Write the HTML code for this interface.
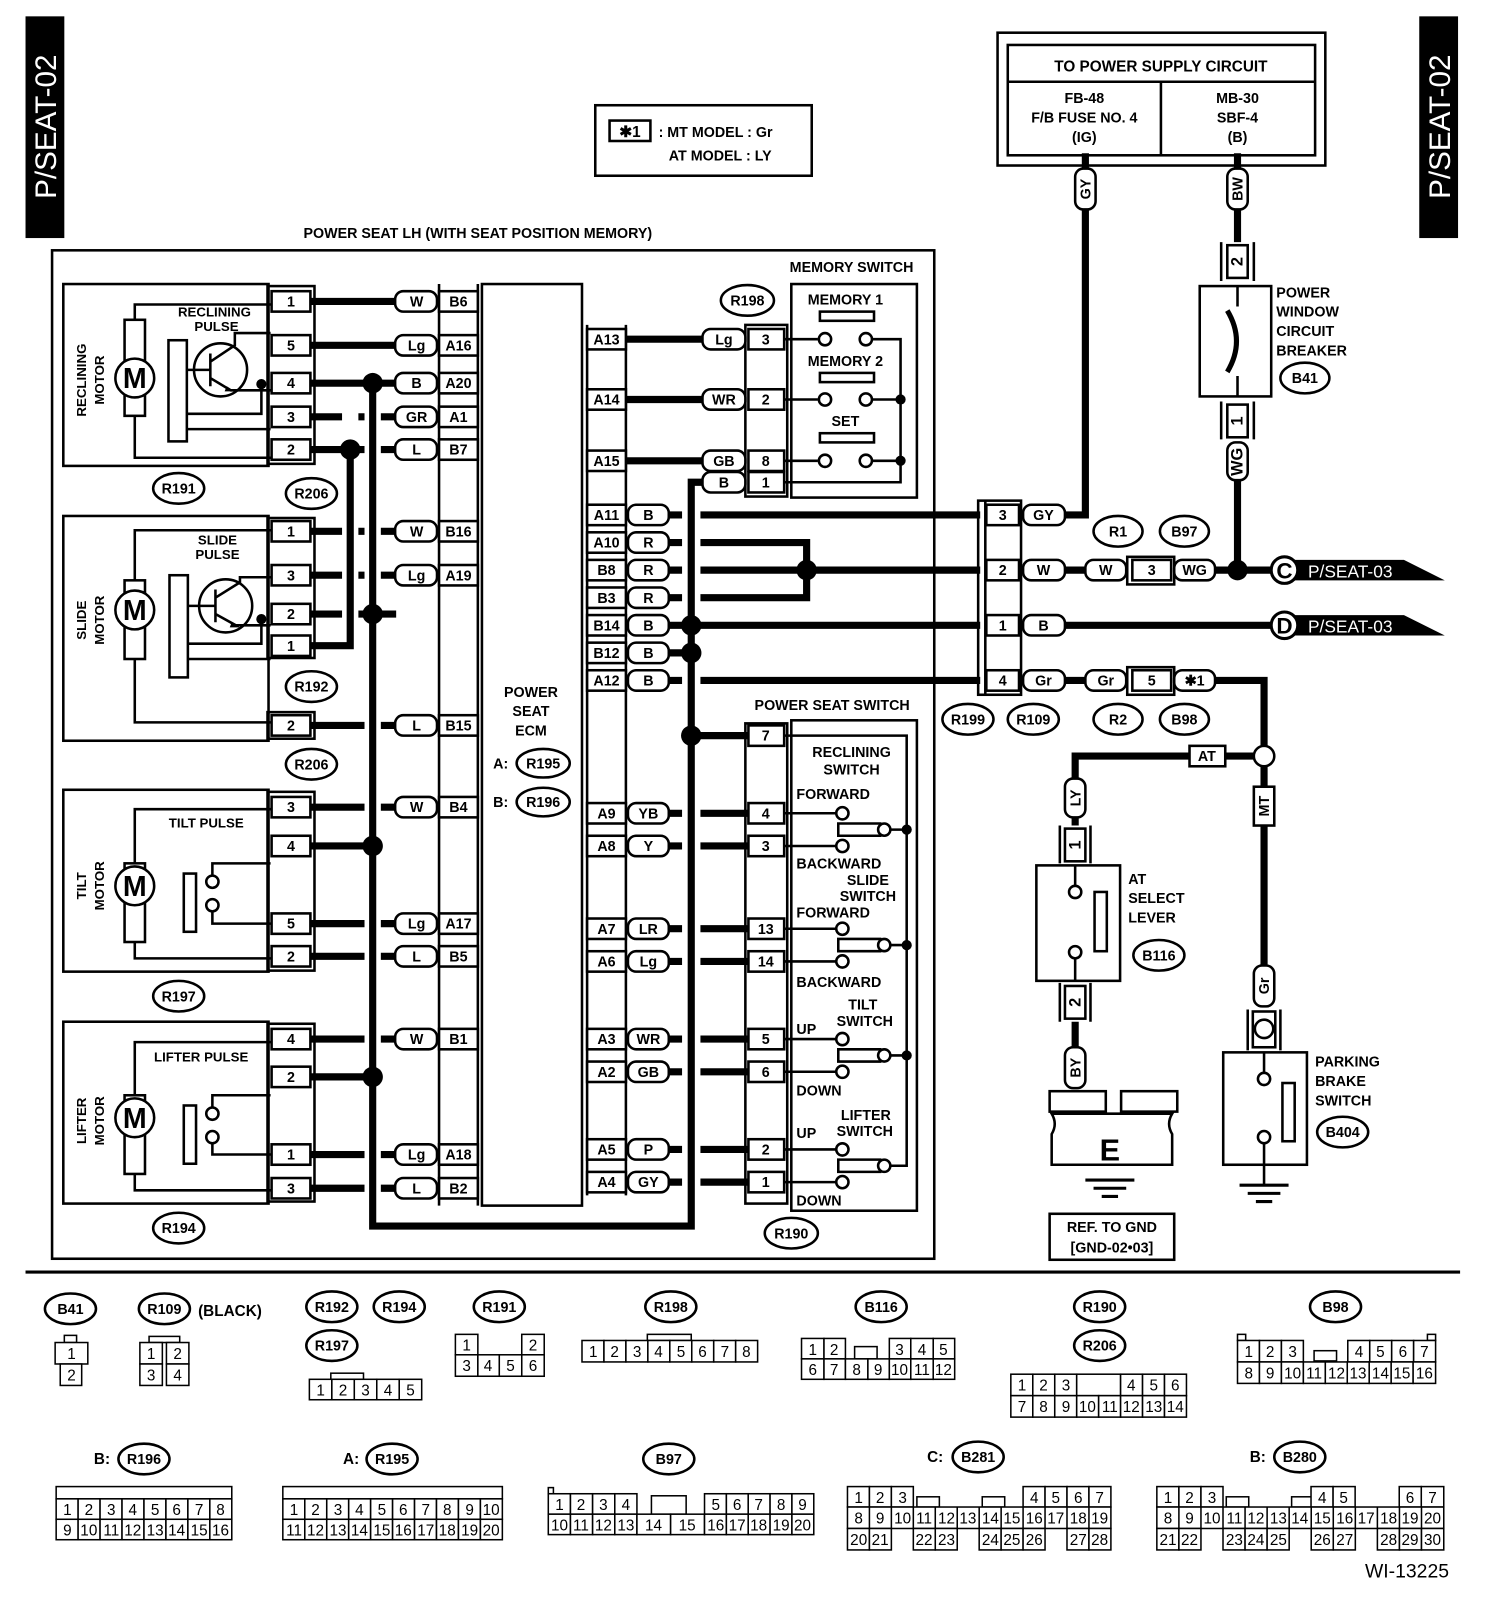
<!DOCTYPE html>
<html><head><meta charset="utf-8"><style>
html,body{margin:0;padding:0;background:#fff}
svg{display:block}
text{font-family:"Liberation Sans",sans-serif;font-weight:bold;fill:#000}
.t{stroke:#000;stroke-width:2.5;fill:none}
.w{stroke:#000;stroke-width:7;fill:none}
.b{fill:#fff;stroke:#000;stroke-width:2.5}
.c rect{fill:#fff;stroke:#000;stroke-width:1.5}
.c text{font-weight:normal;font-size:15px;text-anchor:middle}
.m{text-anchor:middle}
</style></head><body>
<svg width="1504" height="1600" viewBox="0 0 1473 1566" preserveAspectRatio="none" xmlns="http://www.w3.org/2000/svg">
<rect x="0" y="0" width="1473" height="1566" fill="#fff"/>
<!-- side tabs -->
<rect x="25" y="16" width="38" height="217" fill="#000"/>
<text transform="rotate(-90 55 124)" x="55" y="124" class="m" style="font-size:29px;fill:#fff;font-weight:normal">P/SEAT-02</text>
<rect x="1390" y="16" width="38" height="217" fill="#000"/>
<text transform="rotate(-90 1420 124)" x="1420" y="124" class="m" style="font-size:29px;fill:#fff;font-weight:normal">P/SEAT-02</text>

<!-- legend -->
<rect x="583" y="103" width="212" height="69" class="t"/>
<rect x="597" y="118" width="40" height="20" class="t"/>
<text x="617" y="134" class="m" font-size="15">✱1</text>
<text x="645" y="134" font-size="14">: MT MODEL : Gr</text>
<text x="655" y="157" font-size="14">AT MODEL : LY</text>

<!-- power supply -->
<rect x="977" y="32" width="321" height="130" class="t"/>
<rect x="987" y="44" width="301" height="108" class="t"/>
<line x1="987" y1="80" x2="1288" y2="80" class="t"/>
<line x1="1137" y1="80" x2="1137" y2="152" class="t"/>
<text x="1137" y="70" class="m" font-size="15">TO POWER SUPPLY CIRCUIT</text>
<text x="1062" y="101" class="m" font-size="14">FB-48</text>
<text x="1062" y="120" class="m" font-size="14">F/B FUSE NO. 4</text>
<text x="1062" y="139" class="m" font-size="14">(IG)</text>
<text x="1212" y="101" class="m" font-size="14">MB-30</text>
<text x="1212" y="120" class="m" font-size="14">SBF-4</text>
<text x="1212" y="139" class="m" font-size="14">(B)</text>

<text x="468" y="233" class="m" font-size="14">POWER SEAT LH (WITH SEAT POSITION MEMORY)</text>
<rect x="51" y="245" width="864" height="987" class="t"/>

<!-- ECM -->
<rect x="472" y="278" width="98" height="902" class="t"/>
<line x1="430" y1="278" x2="430" y2="1180" class="t"/><line x1="468" y1="278" x2="468" y2="1180" class="t"/>
<line x1="575" y1="318" x2="575" y2="1170" class="t"/><line x1="613" y1="318" x2="613" y2="1170" class="t"/>
<text x="520" y="682" class="m" font-size="14">POWER</text>
<text x="520" y="701" class="m" font-size="14">SEAT</text>
<text x="520" y="720" class="m" font-size="14">ECM</text>
<text x="483" y="752" font-size="14">A:</text><ellipse cx="532" cy="747" rx="26" ry="14" class="b"/><text x="532" y="752" class="m" font-size="14">R195</text>
<text x="483" y="790" font-size="14">B:</text><ellipse cx="532" cy="785" rx="26" ry="14" class="b"/><text x="532" y="790" class="m" font-size="14">R196</text>

<!-- bus lines -->
<path d="M365 375 V1200 H677 V472 H688" class="w"/>
<path d="M343 440 V632 H305" class="w"/>
<path d="M677 720 H733" class="w"/>

<!-- Motor-side connector columns -->
<g class="t">
<rect x="262" y="280" width="46" height="174"/><rect x="262" y="507" width="46" height="137"/><rect x="262" y="697" width="46" height="26"/>
<rect x="262" y="775" width="46" height="175"/><rect x="262" y="1002" width="46" height="174"/>
</g>
<g font-size="14">
<g class="b"><rect x="266" y="285" width="38" height="20"/><rect x="266" y="328" width="38" height="20"/><rect x="266" y="365" width="38" height="20"/><rect x="266" y="398" width="38" height="20"/><rect x="266" y="430" width="38" height="20"/>
<rect x="266" y="510" width="38" height="20"/><rect x="266" y="553" width="38" height="20"/><rect x="266" y="591" width="38" height="20"/><rect x="266" y="622" width="38" height="20"/><rect x="266" y="700" width="38" height="20"/>
<rect x="266" y="780" width="38" height="20"/><rect x="266" y="818" width="38" height="20"/><rect x="266" y="894" width="38" height="20"/><rect x="266" y="926" width="38" height="20"/>
<rect x="266" y="1007" width="38" height="20"/><rect x="266" y="1044" width="38" height="20"/><rect x="266" y="1120" width="38" height="20"/><rect x="266" y="1153" width="38" height="20"/></g>
<g class="m"><text x="285" y="300">1</text><text x="285" y="343">5</text><text x="285" y="380">4</text><text x="285" y="413">3</text><text x="285" y="445">2</text>
<text x="285" y="525">1</text><text x="285" y="568">3</text><text x="285" y="606">2</text><text x="285" y="637">1</text><text x="285" y="715">2</text>
<text x="285" y="795">3</text><text x="285" y="833">4</text><text x="285" y="909">5</text><text x="285" y="941">2</text>
<text x="285" y="1022">4</text><text x="285" y="1059">2</text><text x="285" y="1135">1</text><text x="285" y="1168">3</text></g>
</g>

<!-- wires left to ECM -->
<g class="w">
<path d="M305 295 H388"/><path d="M305 338 H388"/><path d="M305 375 H388"/><path d="M305 408 H335 M351 408 H357 M373 408 H388"/><path d="M305 440 H357 M373 440 H388"/>
<path d="M305 520 H335 M351 520 H357 M373 520 H388"/><path d="M305 563 H335 M351 563 H357 M373 563 H388"/><path d="M305 601 H335 M351 601 H388"/><path d="M305 710 H357 M373 710 H388"/>
<path d="M305 790 H357 M373 790 H388"/><path d="M305 828 H365"/><path d="M305 904 H357 M373 904 H388"/><path d="M305 936 H357 M373 936 H388"/>
<path d="M305 1017 H357 M373 1017 H388"/><path d="M305 1054 H365"/><path d="M305 1130 H357 M373 1130 H388"/><path d="M305 1163 H357 M373 1163 H388"/>
</g>
<g fill="#000"><circle cx="365" cy="375" r="10"/><circle cx="343" cy="440" r="10"/><circle cx="365" cy="601" r="10"/><circle cx="365" cy="828" r="10"/><circle cx="365" cy="1054" r="10"/>
<circle cx="677" cy="612" r="10"/><circle cx="677" cy="639" r="10"/><circle cx="677" cy="720" r="10"/><circle cx="790" cy="558" r="10"/></g>

<!-- wire labels left side + ECM pins left -->
<g font-size="14">
<g class="b">
<rect x="387" y="285" width="41" height="20" rx="8"/><rect x="387" y="328" width="41" height="20" rx="8"/><rect x="387" y="365" width="41" height="20" rx="8"/><rect x="387" y="398" width="41" height="20" rx="8"/><rect x="387" y="430" width="41" height="20" rx="8"/>
<rect x="387" y="510" width="41" height="20" rx="8"/><rect x="387" y="553" width="41" height="20" rx="8"/><rect x="387" y="700" width="41" height="20" rx="8"/>
<rect x="387" y="780" width="41" height="20" rx="8"/><rect x="387" y="894" width="41" height="20" rx="8"/><rect x="387" y="926" width="41" height="20" rx="8"/>
<rect x="387" y="1007" width="41" height="20" rx="8"/><rect x="387" y="1120" width="41" height="20" rx="8"/><rect x="387" y="1153" width="41" height="20" rx="8"/>
<rect x="430" y="285" width="38" height="20"/><rect x="430" y="328" width="38" height="20"/><rect x="430" y="365" width="38" height="20"/><rect x="430" y="398" width="38" height="20"/><rect x="430" y="430" width="38" height="20"/>
<rect x="430" y="510" width="38" height="20"/><rect x="430" y="553" width="38" height="20"/><rect x="430" y="700" width="38" height="20"/>
<rect x="430" y="780" width="38" height="20"/><rect x="430" y="894" width="38" height="20"/><rect x="430" y="926" width="38" height="20"/>
<rect x="430" y="1007" width="38" height="20"/><rect x="430" y="1120" width="38" height="20"/><rect x="430" y="1153" width="38" height="20"/>
</g>
<g class="m">
<text x="408" y="300">W</text><text x="408" y="343">Lg</text><text x="408" y="380">B</text><text x="408" y="413">GR</text><text x="408" y="445">L</text>
<text x="408" y="525">W</text><text x="408" y="568">Lg</text><text x="408" y="715">L</text>
<text x="408" y="795">W</text><text x="408" y="909">Lg</text><text x="408" y="941">L</text>
<text x="408" y="1022">W</text><text x="408" y="1135">Lg</text><text x="408" y="1168">L</text>
<text x="449" y="300">B6</text><text x="449" y="343">A16</text><text x="449" y="380">A20</text><text x="449" y="413">A1</text><text x="449" y="445">B7</text>
<text x="449" y="525">B16</text><text x="449" y="568">A19</text><text x="449" y="715">B15</text>
<text x="449" y="795">B4</text><text x="449" y="909">A17</text><text x="449" y="941">B5</text>
<text x="449" y="1022">B1</text><text x="449" y="1135">A18</text><text x="449" y="1168">B2</text>
</g></g>

<!-- motors -->
<g class="t">
<rect x="62" y="278" width="201" height="178"/><rect x="62" y="505" width="201" height="220"/><rect x="62" y="773" width="201" height="178"/><rect x="62" y="1000" width="201" height="178"/>
<rect x="122" y="313" width="20" height="94"/><path d="M132 313 V298 H265 M132 407 V448 H265"/>
<rect x="165" y="333" width="18" height="99"/><circle cx="216" cy="362" r="26"/>
<path d="M183 362 H206 M206 346 V378 M206 354 L230 338 V326 H265 M206 370 L226 382 H256 V405 H183 M256 382 H265 M183 420 H265"/>
<rect x="122" y="568" width="20" height="77"/><path d="M132 568 V519 H265 M132 645 V707 H265"/>
<rect x="166" y="563" width="18" height="100"/><circle cx="221" cy="593" r="26"/>
<path d="M184 593 H211 M211 577 V609 M211 585 L235 570 V565 H265 M211 601 L231 612 H256 V630 H184 M256 612 H265 M184 645 H265"/>
<rect x="122" y="845" width="20" height="77"/><path d="M132 845 V792 H265 M132 922 V938 H265"/>
<rect x="180" y="855" width="12" height="57"/><circle cx="208" cy="863" r="6"/><circle cx="208" cy="886" r="6"/>
<path d="M208 857 V845 H265 M208 892 V904 H265"/>
<rect x="122" y="1072" width="20" height="77"/><path d="M132 1072 V1020 H265 M132 1149 V1165 H265"/>
<rect x="180" y="1082" width="12" height="57"/><circle cx="208" cy="1090" r="6"/><circle cx="208" cy="1113" r="6"/>
<path d="M208 1084 V1072 H265 M208 1119 V1130 H265"/>
</g>
<g class="b"><circle cx="132" cy="370" r="19"/><circle cx="132" cy="597" r="19"/><circle cx="132" cy="867" r="19"/><circle cx="132" cy="1094" r="19"/></g>
<g class="m" font-size="28"><text x="132" y="380">M</text><text x="132" y="607">M</text><text x="132" y="877">M</text><text x="132" y="1104">M</text></g>
<g fill="#000"><path d="M222 378 l8 5 -10 0z"/><path d="M227 609 l8 5 -10 0z"/><circle cx="256" cy="376" r="5"/><circle cx="256" cy="606" r="5"/></g>
<g font-size="13" class="m">
<text x="210" y="310">RECLINING</text><text x="212" y="324">PULSE</text>
<text x="213" y="533">SLIDE</text><text x="213" y="547">PULSE</text>
<text x="202" y="810">TILT PULSE</text><text x="197" y="1039">LIFTER PULSE</text>
<text transform="rotate(-90 84 372)" x="84" y="372">RECLINING</text><text transform="rotate(-90 102 372)" x="102" y="372">MOTOR</text>
<text transform="rotate(-90 84 607)" x="84" y="607">SLIDE</text><text transform="rotate(-90 102 607)" x="102" y="607">MOTOR</text>
<text transform="rotate(-90 84 867)" x="84" y="867">TILT</text><text transform="rotate(-90 102 867)" x="102" y="867">MOTOR</text>
<text transform="rotate(-90 84 1097)" x="84" y="1097">LIFTER</text><text transform="rotate(-90 102 1097)" x="102" y="1097">MOTOR</text>
</g>
<g class="b"><ellipse cx="175" cy="478" rx="25" ry="15"/><ellipse cx="305" cy="483" rx="25" ry="15"/><ellipse cx="305" cy="672" rx="25" ry="15"/><ellipse cx="305" cy="748" rx="25" ry="15"/><ellipse cx="175" cy="975" rx="25" ry="15"/><ellipse cx="175" cy="1202" rx="25" ry="15"/>
<ellipse cx="732" cy="294" rx="26" ry="15"/><ellipse cx="775" cy="1207" rx="26" ry="15"/></g>
<g class="m" font-size="14"><text x="175" y="483">R191</text><text x="305" y="488">R206</text><text x="305" y="677">R192</text><text x="305" y="753">R206</text><text x="175" y="980">R197</text><text x="175" y="1207">R194</text>
<text x="732" y="299">R198</text><text x="775" y="1212">R190</text></g>

<!-- ECM right side pins -->
<g font-size="14">
<g class="b">
<rect x="575" y="322" width="38" height="20"/><rect x="575" y="381" width="38" height="20"/><rect x="575" y="441" width="38" height="20"/>
<rect x="575" y="494" width="38" height="20"/><rect x="575" y="521" width="38" height="20"/><rect x="575" y="548" width="38" height="20"/><rect x="575" y="575" width="38" height="20"/><rect x="575" y="602" width="38" height="20"/><rect x="575" y="629" width="38" height="20"/><rect x="575" y="656" width="38" height="20"/>
<rect x="575" y="786" width="38" height="20"/><rect x="575" y="818" width="38" height="20"/><rect x="575" y="899" width="38" height="20"/><rect x="575" y="931" width="38" height="20"/><rect x="575" y="1007" width="38" height="20"/><rect x="575" y="1039" width="38" height="20"/><rect x="575" y="1115" width="38" height="20"/><rect x="575" y="1147" width="38" height="20"/>
<rect x="615" y="494" width="40" height="20" rx="8"/><rect x="615" y="521" width="40" height="20" rx="8"/><rect x="615" y="548" width="40" height="20" rx="8"/><rect x="615" y="575" width="40" height="20" rx="8"/><rect x="615" y="602" width="40" height="20" rx="8"/><rect x="615" y="629" width="40" height="20" rx="8"/><rect x="615" y="656" width="40" height="20" rx="8"/>
<rect x="615" y="786" width="40" height="20" rx="8"/><rect x="615" y="818" width="40" height="20" rx="8"/><rect x="615" y="899" width="40" height="20" rx="8"/><rect x="615" y="931" width="40" height="20" rx="8"/><rect x="615" y="1007" width="40" height="20" rx="8"/><rect x="615" y="1039" width="40" height="20" rx="8"/><rect x="615" y="1115" width="40" height="20" rx="8"/><rect x="615" y="1147" width="40" height="20" rx="8"/>
</g>
<g class="m">
<text x="594" y="337">A13</text><text x="594" y="396">A14</text><text x="594" y="456">A15</text>
<text x="594" y="509">A11</text><text x="594" y="536">A10</text><text x="594" y="563">B8</text><text x="594" y="590">B3</text><text x="594" y="617">B14</text><text x="594" y="644">B12</text><text x="594" y="671">A12</text>
<text x="594" y="801">A9</text><text x="594" y="833">A8</text><text x="594" y="914">A7</text><text x="594" y="946">A6</text><text x="594" y="1022">A3</text><text x="594" y="1054">A2</text><text x="594" y="1130">A5</text><text x="594" y="1162">A4</text>
<text x="635" y="509">B</text><text x="635" y="536">R</text><text x="635" y="563">R</text><text x="635" y="590">R</text><text x="635" y="617">B</text><text x="635" y="644">B</text><text x="635" y="671">B</text>
<text x="635" y="801">YB</text><text x="635" y="833">Y</text><text x="635" y="914">LR</text><text x="635" y="946">Lg</text><text x="635" y="1022">WR</text><text x="635" y="1054">GB</text><text x="635" y="1130">P</text><text x="635" y="1162">GY</text>
</g></g>

<g class="w">
<path d="M613 332 H688 M613 391 H688 M613 451 H688"/>
<path d="M655 504 H668 M686 504 H960"/>
<path d="M655 531 H668 M686 531 H790 V585 H686 M668 585 H655"/>
<path d="M655 558 H668 M686 558 H960"/>
<path d="M655 612 H960"/><path d="M655 639 H677"/>
<path d="M655 666 H668 M686 666 H960"/>
<path d="M655 796 H668 M686 796 H733 M655 828 H668 M686 828 H733 M655 909 H668 M686 909 H733 M655 941 H668 M686 941 H733"/>
<path d="M655 1017 H668 M686 1017 H733 M655 1049 H668 M686 1049 H733 M655 1125 H668 M686 1125 H733 M655 1157 H668 M686 1157 H733"/>
</g>

<!-- memory switch -->
<text x="834" y="266" class="m" font-size="14">MEMORY SWITCH</text>
<rect x="775" y="278" width="123" height="209" class="t"/>
<rect x="730" y="318" width="41" height="168" class="t"/>
<g font-size="14"><g class="b">
<rect x="688" y="322" width="42" height="20" rx="8"/><rect x="688" y="381" width="42" height="20" rx="8"/><rect x="688" y="441" width="42" height="20" rx="8"/><rect x="688" y="462" width="42" height="20" rx="8"/>
<rect x="733" y="322" width="35" height="20"/><rect x="733" y="381" width="35" height="20"/><rect x="733" y="441" width="35" height="20"/><rect x="733" y="462" width="35" height="20"/>
</g><g class="m"><text x="709" y="337">Lg</text><text x="709" y="396">WR</text><text x="709" y="456">GB</text><text x="709" y="477">B</text>
<text x="750" y="337">3</text><text x="750" y="396">2</text><text x="750" y="456">8</text><text x="750" y="477">1</text>
<text x="828" y="298">MEMORY 1</text><text x="828" y="358">MEMORY 2</text><text x="828" y="417">SET</text></g></g>
<g class="t"><rect x="803" y="305" width="53" height="9"/><rect x="803" y="365" width="53" height="9"/><rect x="803" y="424" width="53" height="9"/>
<path d="M768 332 H801 M768 391 H801 M768 451 H801 M855 332 H882 V472 H768 M855 391 H882 M855 451 H882"/></g>
<g class="b"><circle cx="808" cy="332" r="6"/><circle cx="848" cy="332" r="6"/><circle cx="808" cy="391" r="6"/><circle cx="848" cy="391" r="6"/><circle cx="808" cy="451" r="6"/><circle cx="848" cy="451" r="6"/></g>
<g fill="#000"><circle cx="882" cy="391" r="5"/><circle cx="882" cy="451" r="5"/></g>

<!-- power seat switch -->
<text x="815" y="695" class="m" font-size="14">POWER SEAT SWITCH</text>
<rect x="775" y="705" width="123" height="480" class="t"/>
<rect x="730" y="708" width="41" height="470" class="t"/>
<g font-size="14"><g class="b">
<rect x="733" y="710" width="35" height="20"/><rect x="733" y="786" width="35" height="20"/><rect x="733" y="818" width="35" height="20"/><rect x="733" y="899" width="35" height="20"/><rect x="733" y="931" width="35" height="20"/><rect x="733" y="1007" width="35" height="20"/><rect x="733" y="1039" width="35" height="20"/><rect x="733" y="1115" width="35" height="20"/><rect x="733" y="1147" width="35" height="20"/>
</g><g class="m"><text x="750" y="725">7</text><text x="750" y="801">4</text><text x="750" y="833">3</text><text x="750" y="914">13</text><text x="750" y="946">14</text><text x="750" y="1022">5</text><text x="750" y="1054">6</text><text x="750" y="1130">2</text><text x="750" y="1162">1</text>
<text x="834" y="741">RECLINING</text><text x="834" y="758">SWITCH</text><text x="850" y="866">SLIDE</text><text x="850" y="882">SWITCH</text><text x="845" y="988">TILT</text><text x="847" y="1004">SWITCH</text><text x="848" y="1096">LIFTER</text><text x="847" y="1112">SWITCH</text></g>
<text x="780" y="782">FORWARD</text><text x="780" y="850">BACKWARD</text><text x="780" y="898">FORWARD</text><text x="780" y="966">BACKWARD</text><text x="780" y="1012">UP</text><text x="780" y="1072">DOWN</text><text x="780" y="1114">UP</text><text x="780" y="1180">DOWN</text></g>
<g class="t"><path d="M768 720 H888 V1141 H870"/>
<path d="M768 796 H819 M768 828 H819 M768 909 H819 M768 941 H819 M768 1017 H819 M768 1049 H819 M768 1125 H819 M768 1157 H819"/>
<path d="M821 806 H862 V818 H821Z M821 919 H862 V931 H821Z M821 1027 H862 V1039 H821Z M821 1135 H862 V1147 H821Z"/>
<path d="M870 812 H888 M870 925 H888 M870 1033 H888"/></g>
<g class="b"><circle cx="825" cy="796" r="6"/><circle cx="825" cy="828" r="6"/><circle cx="866" cy="812" r="6"/>
<circle cx="825" cy="909" r="6"/><circle cx="825" cy="941" r="6"/><circle cx="866" cy="925" r="6"/>
<circle cx="825" cy="1017" r="6"/><circle cx="825" cy="1049" r="6"/><circle cx="866" cy="1033" r="6"/>
<circle cx="825" cy="1125" r="6"/><circle cx="825" cy="1157" r="6"/><circle cx="866" cy="1141" r="6"/></g>
<g fill="#000"><circle cx="888" cy="812" r="5"/><circle cx="888" cy="925" r="5"/><circle cx="888" cy="1033" r="5"/></g>

<!-- right connector R199/R109 -->
<rect x="958" y="490" width="42" height="190" class="t"/><line x1="965" y1="490" x2="965" y2="680" class="t"/>
<g class="w"><path d="M1043 504 H1063 V200"/><path d="M1043 558 H1063 M1190 558 H1245"/><path d="M1043 612 H1245"/><path d="M1043 666 H1063 M1190 666 H1238 V730"/>
<path d="M1228 740 H1053 V762"/><path d="M1238 750 V950"/><path d="M1212 205 V237 M1212 470 V558"/><path d="M1053 800 V808 M1053 1000 V1025"/><path d="M1063 150 V165"/><path d="M1212 150 V165"/></g>
<g font-size="14"><g class="b">
<rect x="966" y="494" width="32" height="20"/><rect x="966" y="548" width="32" height="20"/><rect x="966" y="602" width="32" height="20"/><rect x="966" y="656" width="32" height="20"/>
<rect x="1002" y="494" width="41" height="20" rx="8"/><rect x="1002" y="548" width="41" height="20" rx="8"/><rect x="1002" y="602" width="41" height="20" rx="8"/><rect x="1002" y="656" width="41" height="20" rx="8"/>
<rect x="1063" y="548" width="40" height="20" rx="8"/><rect x="1063" y="656" width="40" height="20" rx="8"/>
<rect x="1104" y="545" width="46" height="27"/><rect x="1104" y="653" width="46" height="27"/>
<rect x="1109" y="548" width="38" height="20"/><rect x="1109" y="656" width="38" height="20"/>
<rect x="1150" y="548" width="40" height="20" rx="8"/><rect x="1150" y="656" width="40" height="20" rx="8"/>
<rect x="1165" y="730" width="35" height="20"/><rect x="1228" y="770" width="20" height="38"/>
<rect x="1053" y="165" width="20" height="40" rx="8"/><rect x="1202" y="165" width="20" height="40" rx="8"/>
<rect x="1043" y="762" width="20" height="38" rx="8"/><rect x="1228" y="945" width="20" height="40" rx="8"/><rect x="1043" y="1025" width="20" height="40" rx="8"/>
</g>
<g class="m"><text x="982" y="509">3</text><text x="982" y="563">2</text><text x="982" y="617">1</text><text x="982" y="671">4</text>
<text x="1022" y="509">GY</text><text x="1022" y="563">W</text><text x="1022" y="617">B</text><text x="1022" y="671">Gr</text>
<text x="1083" y="563">W</text><text x="1083" y="671">Gr</text><text x="1128" y="563">3</text><text x="1128" y="671">5</text><text x="1170" y="563">WG</text><text x="1170" y="671">✱1</text>
<text x="1182" y="745">AT</text></g>
<text transform="rotate(-90 1068 185)" x="1068" y="185" class="m">GY</text>
<text transform="rotate(-90 1217 185)" x="1217" y="185" class="m">BW</text>
<text transform="rotate(-90 1243 789)" x="1243" y="789" class="m">MT</text>
<text transform="rotate(-90 1058 781)" x="1058" y="781" class="m">LY</text>
<text transform="rotate(-90 1243 965)" x="1243" y="965" class="m">Gr</text>
<text transform="rotate(-90 1058 1045)" x="1058" y="1045" class="m">BY</text>
</g>
<circle cx="1212" cy="558" r="10" fill="#000"/>
<circle cx="1238" cy="740" r="10" class="b"/>
<g class="b"><ellipse cx="1095" cy="520" rx="24" ry="15"/><ellipse cx="1160" cy="520" rx="24" ry="15"/><ellipse cx="1095" cy="704" rx="24" ry="15"/><ellipse cx="1160" cy="704" rx="24" ry="15"/><ellipse cx="948" cy="704" rx="25" ry="15"/><ellipse cx="1012" cy="704" rx="25" ry="15"/></g>
<g class="m" font-size="14"><text x="1095" y="525">R1</text><text x="1160" y="525">B97</text><text x="1095" y="709">R2</text><text x="1160" y="709">B98</text><text x="948" y="709">R199</text><text x="1012" y="709">R109</text></g>
<path d="M1268 548 H1375 L1415 568 H1268Z M1268 602 H1375 L1415 622 H1268Z" fill="#000"/>
<circle cx="1258" cy="558" r="13" class="b" style="stroke-width:3"/><circle cx="1258" cy="612" r="13" class="b" style="stroke-width:3"/>
<text x="1258" y="566" class="m" font-size="22">C</text><text x="1258" y="620" class="m" font-size="22">D</text>
<text x="1281" y="565" style="fill:#fff;font-weight:normal" font-size="17">P/SEAT-03</text>
<text x="1281" y="619" style="fill:#fff;font-weight:normal" font-size="17">P/SEAT-03</text>

<!-- circuit breaker -->
<g class="t"><path d="M1196 237 V275 M1228 237 V275 M1196 393 V430 M1228 393 V430"/>
<rect x="1175" y="280" width="70" height="108"/><path d="M1212 280 V300 M1212 368 V388"/><path d="M1202 304 Q1220 334 1202 364" style="stroke-width:5"/></g>
<g class="b"><rect x="1202" y="240" width="20" height="32"/><rect x="1202" y="396" width="20" height="32"/><rect x="1202" y="433" width="20" height="37" rx="8"/></g>
<text transform="rotate(-90 1217 256)" x="1217" y="256" class="m">2</text>
<text transform="rotate(-90 1217 412)" x="1217" y="412" class="m">1</text>
<text transform="rotate(-90 1217 452)" x="1217" y="452" class="m">WG</text>
<g font-size="14"><text x="1250" y="291">POWER</text><text x="1250" y="310">WINDOW</text><text x="1250" y="329">CIRCUIT</text><text x="1250" y="348">BREAKER</text></g>
<ellipse cx="1278" cy="370" rx="24" ry="15" class="b"/><text x="1278" y="375" class="m" font-size="14">B41</text>

<!-- AT select lever / parking brake -->
<g class="t"><path d="M1038 808 V845 M1068 808 V845 M1038 962 V1000 M1068 962 V1000"/>
<rect x="1015" y="847" width="82" height="113"/><path d="M1053 847 V867 M1053 938 V960"/><rect x="1072" y="873" width="12" height="58"/>
<path d="M1222 988 V1028 M1254 988 V1028"/><rect x="1198" y="1030" width="82" height="110"/><path d="M1238 1030 V1050 M1238 1118 V1160"/><rect x="1256" y="1060" width="12" height="57"/>
<path d="M1214 1160 H1262 M1222 1168 H1254 M1230 1176 H1246" style="stroke-width:3"/>
<path d="M1063 1155 H1111 M1071 1163 H1103 M1079 1171 H1095" style="stroke-width:3"/></g>
<g class="b"><rect x="1043" y="811" width="20" height="32"/><rect x="1043" y="965" width="20" height="32"/><circle cx="1053" cy="873" r="6"/><circle cx="1053" cy="932" r="6"/>
<rect x="1227" y="990" width="22" height="35"/><circle cx="1238" cy="1007" r="9"/><circle cx="1238" cy="1056" r="6"/><circle cx="1238" cy="1113" r="6"/></g>
<text transform="rotate(-90 1058 827)" x="1058" y="827" class="m">1</text>
<text transform="rotate(-90 1058 981)" x="1058" y="981" class="m">2</text>
<g font-size="14"><text x="1105" y="865">AT</text><text x="1105" y="884">SELECT</text><text x="1105" y="903">LEVER</text>
<text x="1288" y="1044">PARKING</text><text x="1288" y="1063">BRAKE</text><text x="1288" y="1082">SWITCH</text></g>
<g class="b"><ellipse cx="1135" cy="935" rx="25" ry="15"/><ellipse cx="1315" cy="1108" rx="25" ry="15"/></g>
<g class="m" font-size="14"><text x="1135" y="940">B116</text><text x="1315" y="1113">B404</text></g>
<g class="b"><rect x="1028" y="1068" width="55" height="20"/><rect x="1098" y="1068" width="55" height="20"/>
<path d="M1030 1090 H1148 Q1142 1100 1148 1110 V1140 H1030 V1110 Q1036 1100 1030 1090Z"/></g>
<text x="1087" y="1136" class="m" font-size="30">E</text>
<rect x="1028" y="1188" width="122" height="45" class="t"/>
<text x="1089" y="1206" class="m" font-size="14">REF. TO GND</text><text x="1089" y="1226" class="m" font-size="14">[GND-02•03]</text>

<line x1="25" y1="1245" x2="1430" y2="1245" stroke="#000" stroke-width="3"/>

<g class="b"><ellipse cx="69" cy="1281" rx="25" ry="15"/><ellipse cx="161" cy="1281" rx="25" ry="15"/><ellipse cx="325" cy="1279" rx="25" ry="15"/><ellipse cx="391" cy="1279" rx="25" ry="15"/><ellipse cx="325" cy="1317" rx="25" ry="15"/><ellipse cx="489" cy="1279" rx="25" ry="15"/><ellipse cx="657" cy="1279" rx="25" ry="15"/><ellipse cx="863" cy="1279" rx="25" ry="15"/><ellipse cx="1077" cy="1279" rx="25" ry="15"/><ellipse cx="1077" cy="1317" rx="25" ry="15"/><ellipse cx="1308" cy="1279" rx="25" ry="15"/>
<ellipse cx="141" cy="1428" rx="25" ry="15"/><ellipse cx="384" cy="1428" rx="25" ry="15"/><ellipse cx="655" cy="1428" rx="25" ry="15"/><ellipse cx="958" cy="1426" rx="25" ry="15"/><ellipse cx="1273" cy="1426" rx="25" ry="15"/></g>
<g class="m" font-size="14"><text x="69" y="1286">B41</text><text x="161" y="1286">R109</text><text x="325" y="1284">R192</text><text x="391" y="1284">R194</text><text x="325" y="1322">R197</text><text x="489" y="1284">R191</text><text x="657" y="1284">R198</text><text x="863" y="1284">B116</text><text x="1077" y="1284">R190</text><text x="1077" y="1322">R206</text><text x="1308" y="1284">B98</text>
<text x="141" y="1433">R196</text><text x="384" y="1433">R195</text><text x="655" y="1433">B97</text><text x="958" y="1431">B281</text><text x="1273" y="1431">B280</text></g>
<g font-size="15"><text x="194" y="1288">(BLACK)</text><text x="92" y="1433">B:</text><text x="336" y="1433">A:</text><text x="908" y="1431">C:</text><text x="1224" y="1431">B:</text></g>

<g class="c">
<rect x="63" y="1307" width="12" height="7"/><rect x="54" y="1314" width="32" height="21"/><rect x="59" y="1335" width="21" height="21"/>
<text x="70" y="1330">1</text><text x="70" y="1351">2</text>
<rect x="146" y="1308" width="30" height="6"/><rect x="137" y="1314" width="22" height="21"/><rect x="163" y="1314" width="22" height="21"/><rect x="137" y="1335" width="22" height="21"/><rect x="163" y="1335" width="22" height="21"/>
<text x="148" y="1330">1</text><text x="174" y="1330">2</text><text x="148" y="1351">3</text><text x="174" y="1351">4</text>
<rect x="324" y="1344" width="32" height="6"/>
<rect x="303" y="1350" width="22" height="20"/><rect x="325" y="1350" width="22" height="20"/><rect x="347" y="1350" width="22" height="20"/><rect x="369" y="1350" width="22" height="20"/><rect x="391" y="1350" width="22" height="20"/>
<text x="314" y="1366">1</text><text x="336" y="1366">2</text><text x="358" y="1366">3</text><text x="380" y="1366">4</text><text x="402" y="1366">5</text>
<rect x="446" y="1306" width="22" height="20"/><rect x="511" y="1306" width="22" height="20"/>
<rect x="446" y="1326" width="22" height="21"/><rect x="468" y="1326" width="21" height="21"/><rect x="489" y="1326" width="22" height="21"/><rect x="511" y="1326" width="22" height="21"/>
<text x="457" y="1322">1</text><text x="522" y="1322">2</text><text x="457" y="1342">3</text><text x="478" y="1342">4</text><text x="500" y="1342">5</text><text x="522" y="1342">6</text>
<rect x="634" y="1306" width="43" height="6"/>
<rect x="570" y="1312" width="21.5" height="21"/><rect x="591.5" y="1312" width="21.5" height="21"/><rect x="613" y="1312" width="21.5" height="21"/><rect x="634.5" y="1312" width="21.5" height="21"/><rect x="656" y="1312" width="21.5" height="21"/><rect x="677.5" y="1312" width="21.5" height="21"/><rect x="699" y="1312" width="21.5" height="21"/><rect x="720.5" y="1312" width="21.5" height="21"/>
<text x="581" y="1328">1</text><text x="602" y="1328">2</text><text x="624" y="1328">3</text><text x="645" y="1328">4</text><text x="667" y="1328">5</text><text x="688" y="1328">6</text><text x="710" y="1328">7</text><text x="731" y="1328">8</text>
<rect x="785" y="1310" width="22" height="20"/><rect x="807" y="1310" width="21" height="20"/><rect x="837" y="1318" width="22" height="12"/><rect x="871" y="1310" width="21" height="20"/><rect x="892" y="1310" width="22" height="20"/><rect x="914" y="1310" width="21" height="20"/>
<rect x="785" y="1330" width="22" height="20"/><rect x="807" y="1330" width="21" height="20"/><rect x="828" y="1330" width="22" height="20"/><rect x="850" y="1330" width="21" height="20"/><rect x="871" y="1330" width="21" height="20"/><rect x="892" y="1330" width="22" height="20"/><rect x="914" y="1330" width="21" height="20"/>
<text x="796" y="1326">1</text><text x="817" y="1326">2</text><text x="881" y="1326">3</text><text x="903" y="1326">4</text><text x="924" y="1326">5</text>
<text x="796" y="1346">6</text><text x="817" y="1346">7</text><text x="839" y="1346">8</text><text x="860" y="1346">9</text><text x="881" y="1346">10</text><text x="903" y="1346">11</text><text x="924" y="1346">12</text>
<rect x="990" y="1345" width="21.5" height="21"/><rect x="1011.5" y="1345" width="21.5" height="21"/><rect x="1033" y="1345" width="21.5" height="21"/><rect x="1054.5" y="1345" width="43" height="21"/><rect x="1097.5" y="1345" width="21.5" height="21"/><rect x="1119" y="1345" width="21.5" height="21"/><rect x="1140.5" y="1345" width="21.5" height="21"/>
<rect x="990" y="1366" width="21.5" height="21"/><rect x="1011.5" y="1366" width="21.5" height="21"/><rect x="1033" y="1366" width="21.5" height="21"/><rect x="1054.5" y="1366" width="21.5" height="21"/><rect x="1076" y="1366" width="21.5" height="21"/><rect x="1097.5" y="1366" width="21.5" height="21"/><rect x="1119" y="1366" width="21.5" height="21"/><rect x="1140.5" y="1366" width="21.5" height="21"/>
<text x="1001" y="1361">1</text><text x="1022" y="1361">2</text><text x="1044" y="1361">3</text><text x="1108" y="1361">4</text><text x="1130" y="1361">5</text><text x="1151" y="1361">6</text>
<text x="1001" y="1382">7</text><text x="1022" y="1382">8</text><text x="1044" y="1382">9</text><text x="1065" y="1382">10</text><text x="1087" y="1382">11</text><text x="1108" y="1382">12</text><text x="1130" y="1382">13</text><text x="1151" y="1382">14</text>
<rect x="1212" y="1306" width="8" height="6"/><rect x="1398" y="1306" width="8" height="6"/><rect x="1287" y="1322" width="22" height="10"/>
<rect x="1212" y="1312" width="21.5" height="21"/><rect x="1233.5" y="1312" width="21.5" height="21"/><rect x="1255" y="1312" width="21.5" height="21"/><rect x="1320" y="1312" width="21.5" height="21"/><rect x="1341.5" y="1312" width="21.5" height="21"/><rect x="1363" y="1312" width="21.5" height="21"/><rect x="1384.5" y="1312" width="21.5" height="21"/>
<rect x="1212" y="1333" width="21.5" height="21"/><rect x="1233.5" y="1333" width="21.5" height="21"/><rect x="1255" y="1333" width="21.5" height="21"/><rect x="1276.5" y="1333" width="21.5" height="21"/><rect x="1298" y="1333" width="21.5" height="21"/><rect x="1319.5" y="1333" width="21.5" height="21"/><rect x="1341" y="1333" width="21.5" height="21"/><rect x="1362.5" y="1333" width="21.5" height="21"/><rect x="1384" y="1333" width="22" height="21"/>
<text x="1223" y="1328">1</text><text x="1244" y="1328">2</text><text x="1266" y="1328">3</text><text x="1331" y="1328">4</text><text x="1352" y="1328">5</text><text x="1374" y="1328">6</text><text x="1395" y="1328">7</text>
<text x="1223" y="1349">8</text><text x="1244" y="1349">9</text><text x="1266" y="1349">10</text><text x="1287" y="1349">11</text><text x="1309" y="1349">12</text><text x="1330" y="1349">13</text><text x="1352" y="1349">14</text><text x="1373" y="1349">15</text><text x="1395" y="1349">16</text>
<rect x="55" y="1455" width="172" height="12"/>
<rect x="55" y="1467" width="21.5" height="20"/><rect x="76.5" y="1467" width="21.5" height="20"/><rect x="98" y="1467" width="21.5" height="20"/><rect x="119.5" y="1467" width="21.5" height="20"/><rect x="141" y="1467" width="21.5" height="20"/><rect x="162.5" y="1467" width="21.5" height="20"/><rect x="184" y="1467" width="21.5" height="20"/><rect x="205.5" y="1467" width="21.5" height="20"/>
<rect x="55" y="1487" width="21.5" height="20"/><rect x="76.5" y="1487" width="21.5" height="20"/><rect x="98" y="1487" width="21.5" height="20"/><rect x="119.5" y="1487" width="21.5" height="20"/><rect x="141" y="1487" width="21.5" height="20"/><rect x="162.5" y="1487" width="21.5" height="20"/><rect x="184" y="1487" width="21.5" height="20"/><rect x="205.5" y="1487" width="21.5" height="20"/>
<text x="66" y="1483">1</text><text x="87" y="1483">2</text><text x="109" y="1483">3</text><text x="130" y="1483">4</text><text x="152" y="1483">5</text><text x="173" y="1483">6</text><text x="195" y="1483">7</text><text x="216" y="1483">8</text>
<text x="66" y="1503">9</text><text x="87" y="1503">10</text><text x="109" y="1503">11</text><text x="130" y="1503">12</text><text x="152" y="1503">13</text><text x="173" y="1503">14</text><text x="195" y="1503">15</text><text x="216" y="1503">16</text>
<rect x="277" y="1455" width="215" height="12"/>
<rect x="277" y="1467" width="21.5" height="20"/><rect x="298.5" y="1467" width="21.5" height="20"/><rect x="320" y="1467" width="21.5" height="20"/><rect x="341.5" y="1467" width="21.5" height="20"/><rect x="363" y="1467" width="21.5" height="20"/><rect x="384.5" y="1467" width="21.5" height="20"/><rect x="406" y="1467" width="21.5" height="20"/><rect x="427.5" y="1467" width="21.5" height="20"/><rect x="449" y="1467" width="21.5" height="20"/><rect x="470.5" y="1467" width="21.5" height="20"/>
<rect x="277" y="1487" width="21.5" height="20"/><rect x="298.5" y="1487" width="21.5" height="20"/><rect x="320" y="1487" width="21.5" height="20"/><rect x="341.5" y="1487" width="21.5" height="20"/><rect x="363" y="1487" width="21.5" height="20"/><rect x="384.5" y="1487" width="21.5" height="20"/><rect x="406" y="1487" width="21.5" height="20"/><rect x="427.5" y="1487" width="21.5" height="20"/><rect x="449" y="1487" width="21.5" height="20"/><rect x="470.5" y="1487" width="21.5" height="20"/>
<text x="288" y="1483">1</text><text x="309" y="1483">2</text><text x="331" y="1483">3</text><text x="352" y="1483">4</text><text x="374" y="1483">5</text><text x="395" y="1483">6</text><text x="417" y="1483">7</text><text x="438" y="1483">8</text><text x="460" y="1483">9</text><text x="481" y="1483">10</text>
<text x="288" y="1503">11</text><text x="309" y="1503">12</text><text x="331" y="1503">13</text><text x="352" y="1503">14</text><text x="374" y="1503">15</text><text x="395" y="1503">16</text><text x="417" y="1503">17</text><text x="438" y="1503">18</text><text x="460" y="1503">19</text><text x="481" y="1503">20</text>
<rect x="537" y="1456" width="5" height="6"/><rect x="638" y="1464" width="34" height="18"/>
<rect x="537" y="1462" width="21.7" height="20"/><rect x="558.7" y="1462" width="21.7" height="20"/><rect x="580.4" y="1462" width="21.7" height="20"/><rect x="602.1" y="1462" width="21.7" height="20"/>
<rect x="690" y="1462" width="21.4" height="20"/><rect x="711.4" y="1462" width="21.4" height="20"/><rect x="732.8" y="1462" width="21.4" height="20"/><rect x="754.2" y="1462" width="21.4" height="20"/><rect x="775.6" y="1462" width="21.4" height="20"/>
<rect x="537" y="1482" width="21.7" height="20"/><rect x="558.7" y="1482" width="21.7" height="20"/><rect x="580.4" y="1482" width="21.7" height="20"/><rect x="602.1" y="1482" width="21.7" height="20"/><rect x="623.8" y="1482" width="33" height="20"/><rect x="656.8" y="1482" width="33.2" height="20"/>
<rect x="690" y="1482" width="21.4" height="20"/><rect x="711.4" y="1482" width="21.4" height="20"/><rect x="732.8" y="1482" width="21.4" height="20"/><rect x="754.2" y="1482" width="21.4" height="20"/><rect x="775.6" y="1482" width="21.4" height="20"/>
<text x="548" y="1478">1</text><text x="569" y="1478">2</text><text x="591" y="1478">3</text><text x="613" y="1478">4</text><text x="701" y="1478">5</text><text x="722" y="1478">6</text><text x="743" y="1478">7</text><text x="765" y="1478">8</text><text x="786" y="1478">9</text>
<text x="548" y="1498">10</text><text x="569" y="1498">11</text><text x="591" y="1498">12</text><text x="613" y="1498">13</text><text x="640" y="1498">14</text><text x="673" y="1498">15</text><text x="701" y="1498">16</text><text x="722" y="1498">17</text><text x="743" y="1498">18</text><text x="765" y="1498">19</text><text x="786" y="1498">20</text>
<rect x="898" y="1465" width="22" height="10"/><rect x="962" y="1465" width="22" height="10"/>
<rect x="830" y="1455" width="21.5" height="20"/><rect x="851.5" y="1455" width="21.5" height="20"/><rect x="873" y="1455" width="21.5" height="20"/>
<rect x="1002" y="1455" width="21.5" height="20"/><rect x="1023.5" y="1455" width="21.5" height="20"/><rect x="1045" y="1455" width="21.5" height="20"/><rect x="1066.5" y="1455" width="21.5" height="20"/>
<rect x="830" y="1475" width="258" height="21"/>
<rect x="830" y="1496" width="21.5" height="21"/><rect x="851.5" y="1496" width="21.5" height="21"/><rect x="894.5" y="1496" width="21.5" height="21"/><rect x="916" y="1496" width="21.5" height="21"/><rect x="959" y="1496" width="21.5" height="21"/><rect x="980.5" y="1496" width="21.5" height="21"/><rect x="1002" y="1496" width="21.5" height="21"/><rect x="1045" y="1496" width="21.5" height="21"/><rect x="1066.5" y="1496" width="21.5" height="21"/>
<text x="841" y="1471">1</text><text x="862" y="1471">2</text><text x="884" y="1471">3</text><text x="1013" y="1471">4</text><text x="1034" y="1471">5</text><text x="1056" y="1471">6</text><text x="1077" y="1471">7</text>
<text x="841" y="1491">8</text><text x="862" y="1491">9</text><text x="884" y="1491">10</text><text x="905" y="1491">11</text><text x="927" y="1491">12</text><text x="948" y="1491">13</text><text x="970" y="1491">14</text><text x="991" y="1491">15</text><text x="1013" y="1491">16</text><text x="1034" y="1491">17</text><text x="1056" y="1491">18</text><text x="1077" y="1491">19</text>
<text x="841" y="1512">20</text><text x="862" y="1512">21</text><text x="905" y="1512">22</text><text x="927" y="1512">23</text><text x="970" y="1512">24</text><text x="991" y="1512">25</text><text x="1013" y="1512">26</text><text x="1056" y="1512">27</text><text x="1077" y="1512">28</text>
<rect x="1201" y="1465" width="22" height="10"/><rect x="1265" y="1465" width="22" height="10"/>
<rect x="1133" y="1455" width="21.6" height="20"/><rect x="1154.6" y="1455" width="21.6" height="20"/><rect x="1176.2" y="1455" width="21.6" height="20"/>
<rect x="1284" y="1455" width="21.6" height="20"/><rect x="1305.6" y="1455" width="21.6" height="20"/><rect x="1370.4" y="1455" width="21.6" height="20"/><rect x="1392" y="1455" width="22" height="20"/>
<rect x="1133" y="1475" width="281" height="21"/>
<rect x="1133" y="1496" width="21.6" height="21"/><rect x="1154.6" y="1496" width="21.6" height="21"/><rect x="1197.8" y="1496" width="21.6" height="21"/><rect x="1219.4" y="1496" width="21.6" height="21"/><rect x="1241" y="1496" width="21.6" height="21"/><rect x="1284.2" y="1496" width="21.6" height="21"/><rect x="1305.8" y="1496" width="21.6" height="21"/><rect x="1349" y="1496" width="21.6" height="21"/><rect x="1370.6" y="1496" width="21.6" height="21"/><rect x="1392.2" y="1496" width="21.8" height="21"/>
<text x="1144" y="1471">1</text><text x="1165" y="1471">2</text><text x="1187" y="1471">3</text><text x="1295" y="1471">4</text><text x="1316" y="1471">5</text><text x="1381" y="1471">6</text><text x="1403" y="1471">7</text>
<text x="1144" y="1491">8</text><text x="1165" y="1491">9</text><text x="1187" y="1491">10</text><text x="1209" y="1491">11</text><text x="1230" y="1491">12</text><text x="1252" y="1491">13</text><text x="1273" y="1491">14</text><text x="1295" y="1491">15</text><text x="1317" y="1491">16</text><text x="1338" y="1491">17</text><text x="1360" y="1491">18</text><text x="1381" y="1491">19</text><text x="1403" y="1491">20</text>
<text x="1144" y="1512">21</text><text x="1165" y="1512">22</text><text x="1209" y="1512">23</text><text x="1230" y="1512">24</text><text x="1252" y="1512">25</text><text x="1295" y="1512">26</text><text x="1317" y="1512">27</text><text x="1360" y="1512">28</text><text x="1381" y="1512">29</text><text x="1403" y="1512">30</text>
</g>
<g class="t" style="stroke-width:1.5">
<path d="M851.5 1475 V1496 M873 1475 V1496 M894.5 1475 V1496 M916 1475 V1496 M937.5 1475 V1496 M959 1475 V1496 M980.5 1475 V1496 M1002 1475 V1496 M1023.5 1475 V1496 M1045 1475 V1496 M1066.5 1475 V1496"/>
<path d="M1154.6 1475 V1496 M1176.2 1475 V1496 M1197.8 1475 V1496 M1219.4 1475 V1496 M1241 1475 V1496 M1262.6 1475 V1496 M1284.2 1475 V1496 M1305.8 1475 V1496 M1327.4 1475 V1496 M1349 1475 V1496 M1370.6 1475 V1496 M1392.2 1475 V1496"/>
</g>
<text x="1378" y="1544" class="m" style="font-weight:normal" font-size="19">WI-13225</text>
</svg>
</body></html>
